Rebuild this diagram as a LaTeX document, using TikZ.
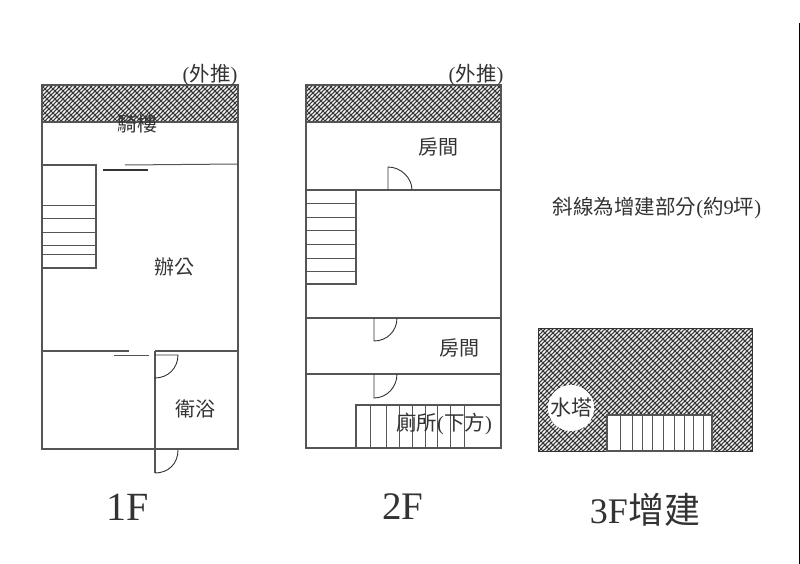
\documentclass[tikz,border=0pt]{standalone}
\usepackage{fontspec}
\setmainfont{Liberation Serif}
\newfontfamily\cjk{Noto Sans CJK TC}
\usetikzlibrary{patterns}
\newcommand{\zh}[1]{{\cjk #1}}
\definecolor{wallgray}{HTML}{555555}
\definecolor{inkgray}{HTML}{333333}
\pgfdeclarepatternformonly{roofup}{\pgfqpoint{-1pt}{-1pt}}{\pgfqpoint{5pt}{5pt}}{\pgfqpoint{4pt}{4pt}}{
    \pgfsetlinewidth{1.1pt}
    \pgfpathmoveto{\pgfqpoint{-1pt}{-1pt}}
    \pgfpathlineto{\pgfqpoint{5pt}{5pt}}
    \pgfusepath{stroke}
}
\pgfdeclarepatternformonly{roofdown}{\pgfqpoint{-1pt}{-1pt}}{\pgfqpoint{9pt}{9pt}}{\pgfqpoint{8pt}{8pt}}{
    \pgfsetlinewidth{0.9pt}
    \pgfpathmoveto{\pgfqpoint{-1pt}{9pt}}
    \pgfpathlineto{\pgfqpoint{9pt}{-1pt}}
    \pgfusepath{stroke}
}
\tikzset{
    plan/.style={x=1pt,y=-1pt,line width=1pt,draw=wallgray},
    wall/.style={draw=wallgray,line width=1.1pt},
    thin wall/.style={draw=wallgray,line width=1pt},
    door/.style={draw=inkgray,line width=0.9pt},
    hatchbase/.style={fill=black!78},
    hatched/.style={pattern=roofup,pattern color=white},
    crossed/.style={pattern=roofdown,pattern color=black!78},
    label/.style={text=inkgray,font=\fontsize{20}{20}\selectfont,inner sep=0pt},
    title/.style={text=inkgray,font=\fontsize{40}{40}\selectfont,inner sep=0pt}
}
\begin{document}
\begin{tikzpicture}[plan]
    \useasboundingbox (0,0) rectangle (800,564);
    % 1F
    \path [hatchbase] (42,85) rectangle (238,122);
    \path [hatched] (42,85) rectangle (238,122);
    \path [crossed] (42,85) rectangle (238,122);
    \draw [wall] (42,85) rectangle (238,449);
    \draw [wall] (42,122) -- (238,122);
    \draw [wall] (42,165) -- (96,165) -- (96,268) -- (42,268);
    \foreach \y in {206,218,232,245,254}
        \draw [thin wall] (42,\y) -- (96,\y);
    \draw [thin wall] (125,165) -- (238,164);
    \draw [wall,draw=inkgray] (103,170) -- (148,170);
    \draw [wall] (42,351) -- (129,351);
    \draw [wall] (155,351) -- (238,351);
    \draw [thin wall] (114,355) -- (149,355);
    \draw [wall] (155,351) -- (155,473);
    \draw [door] (155,355) -- (178,355) .. controls (178,368) and (168,378) .. (155,378);
    \draw [door] (155,473) .. controls (168,473) and (178,464) .. (178,450);
    \node [label,font=\fontsize{20.5}{21}\selectfont] (out1) at (210,75) {(\zh{外推})};
    \node [label] (arcade) at (137,124) {\zh{騎樓}};
    \node [label] (office) at (174,267) {\zh{辦公}};
    \node [label] (bath) at (195,409) {\zh{衛浴}};
    \node [title] (floor1) at (128,507) {1F};
    % 2F
    \path [hatchbase] (306,85) rectangle (501,122);
    \path [hatched] (306,85) rectangle (501,122);
    \path [crossed] (306,85) rectangle (501,122);
    \draw [wall] (306,85) rectangle (501,448);
    \draw [wall] (306,122) -- (501,122);
    \draw [wall] (306,190) -- (501,190);
    \draw [wall] (356,190) -- (356,284) -- (306,284);
    \foreach \y in {204,217,230,244,258,271}
        \draw [thin wall] (306,\y) -- (356,\y);
    \draw [door] (388,190) -- (388,167) .. controls (401,167) and (412,178) .. (412,190);
    \draw [wall] (306,318) -- (501,318);
    \draw [wall] (306,374) -- (501,374);
    \draw [door] (374,318) -- (374,341) .. controls (387,341) and (397,331) .. (397,318);
    \draw [door] (374,374) -- (374,398) .. controls (387,398) and (397,387) .. (397,374);
    \draw [wall] (356,448) -- (356,405) -- (501,405);
    \foreach \x in {370,386,399,412,425,437,450,464}
        \draw [thin wall] (\x,405) -- (\x,448);
    \node [label,font=\fontsize{20.5}{21}\selectfont] (out2) at (476,75) {(\zh{外推})};
    \node [label] (room1) at (438,147) {\zh{房間}};
    \node [label] (room2) at (459,348) {\zh{房間}};
    \node [label,font=\fontsize{20.5}{21}\selectfont] (toilet) at (444,424) {\zh{廁所}(\zh{下方})};
    \node [title,font=\fontsize{39}{39}\selectfont] (floor2) at (403,507) {2F};
    % 3F
    \path [hatchbase] (538,328) rectangle (752,451);
    \path [hatched] (538,328) rectangle (752,451);
    \path [crossed] (538,328) rectangle (752,451);
    \draw [thin wall,draw=inkgray] (538,328) rectangle (752,451);
    \node [circle,fill=white,minimum size=44pt,inner sep=0pt,label,font=\fontsize{21}{21}\selectfont] (tank) at (571,408) {\zh{水塔}};
    \draw [wall,fill=white] (607,451) -- (607,415) -- (712,415) -- (712,451) -- cycle;
    \foreach \x in {620,632,642,652,663,674,684,693,703}
        \draw [thin wall] (\x,415) -- (\x,451);
    \node [title,font=\fontsize{36}{36}\selectfont] (floor3) at (645,510) {3F\zh{增建}};
    % note and page edge
    \node [label,font=\fontsize{20.5}{21}\selectfont] (note) at (657,208) {\zh{斜線為增建部分}(\zh{約}9\zh{坪})};
    \draw [draw=black,line width=1.2pt] (799.4,23) -- (799.4,564);
\end{tikzpicture}
\end{document}
